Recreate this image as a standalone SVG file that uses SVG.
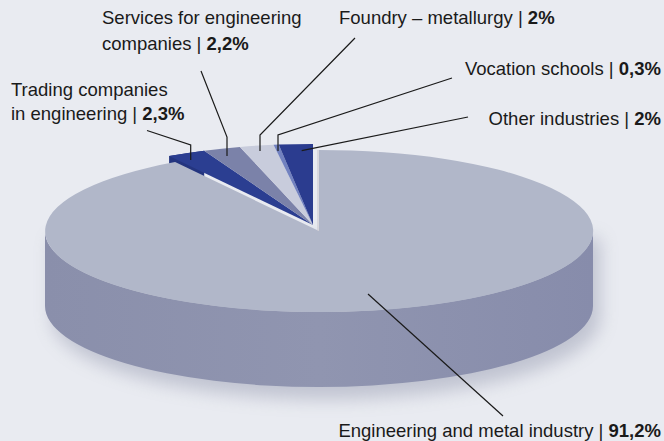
<svg xmlns="http://www.w3.org/2000/svg" width="664" height="441" viewBox="0 0 664 441">
<defs>
<style>
.lbl{font-family:"Liberation Sans",Arial,sans-serif;font-size:18.5px;fill:#1a1a1a}
.b{font-weight:bold}
.lead{fill:none;stroke:#1a1a1a;stroke-width:1.2}
</style>
<linearGradient id="side" x1="0" y1="0" x2="1" y2="0">
<stop offset="0" stop-color="#8a8fab"/>
<stop offset="0.5" stop-color="#9095b0"/>
<stop offset="1" stop-color="#878cab"/>
</linearGradient>
<filter id="blur" x="-20%" y="-20%" width="140%" height="140%"><feGaussianBlur stdDeviation="9"/></filter>
</defs>
<rect width="664" height="441" fill="#e9ebf1"/>
<path d="M52,238 L52,318 A274,81 0 0 0 600,318 L600,238 Z" fill="#8d92a8" opacity="0.45" filter="url(#blur)"/>
<g id="trading">
<path d="M169.1,156.1 A274,81 0 0 1 204.2,150.7 L204.2,225.7 A274,81 0 0 0 169.1,231.1 Z" fill="#24357f"/>
<path d="M313,225 L204.2,150.7 A274,81 0 0 0 169.1,156.1 Z" fill="#2b3e91"/>
</g>
<g id="services"><path d="M313,225 L239.9,146.9 A274,81 0 0 0 204.2,150.7 Z" fill="#7b82a9"/></g>
<g id="foundry"><path d="M313,225 L273.5,144.8 A274,81 0 0 0 239.9,146.9 Z" fill="#c8ccdc"/></g>
<g id="vocation"><path d="M313,225 L278.7,144.6 A274,81 0 0 0 273.5,144.8 Z" fill="#7282c0"/></g>
<g id="other"><path d="M313,225 L313,144 A274,81 0 0 0 278.7,144.6 Z" fill="#2b3c8f"/></g>
<g id="engineering">
<path d="M45,231 L45,306 A274,81 0 0 0 593,306 L593,231 A274,81 0 0 1 45,231 Z" fill="url(#side)"/>
<path d="M319,231 L175.1,162.1 A274,81 0 1 0 319,150 Z" fill="#b1b7c9"/>
<line x1="318" y1="150" x2="318" y2="231" stroke="#c9c5cc" stroke-width="1"/>
</g>
<g id="connectors">
<polyline class="lead" points="147,130.5 190.7,145 190.7,160"/>
<polyline class="lead" points="201,71 227,137 227,156"/>
<polyline class="lead" points="355,38 260,135 260,151"/>
<polyline class="lead" points="452,78 278,135 278,151"/>
<polyline class="lead" points="468,117 301.7,150.7"/>
<line class="lead" x1="368" y1="294" x2="503" y2="416"/>
</g>
<g id="labels">
<text class="lbl" x="102" y="24">Services for engineering</text>
<text class="lbl" x="102" y="50">companies | <tspan class="b">2,2%</tspan></text>
<text class="lbl" x="339" y="24">Foundry – metallurgy | <tspan class="b">2%</tspan></text>
<text class="lbl" x="661" y="75" text-anchor="end">Vocation schools | <tspan class="b">0,3%</tspan></text>
<text class="lbl" x="11" y="96">Trading companies</text>
<text class="lbl" x="11" y="120">in engineering | <tspan class="b">2,3%</tspan></text>
<text class="lbl" x="661" y="125" text-anchor="end">Other industries | <tspan class="b">2%</tspan></text>
<text class="lbl" x="661" y="437" text-anchor="end">Engineering and metal industry | <tspan class="b">91,2%</tspan></text>
</g>
</svg>
